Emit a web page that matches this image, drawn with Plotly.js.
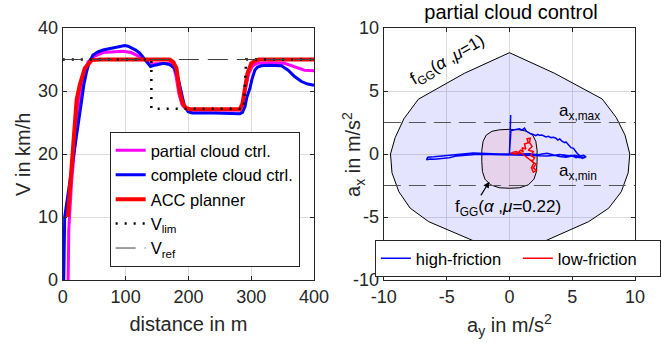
<!DOCTYPE html>
<html>
<head>
<meta charset="utf-8">
<script src="https://cdn.plot.ly/plotly-3.0.1.min.js"></script>
<style>html,body{margin:0;padding:0;background:#fff;}#chart{width:661px;height:355px;}</style>
</head>
<body>
<div id="chart"></div>
<script>
// ---------- Left panel: velocity vs distance ----------
const partialD = [8.5, 9.5, 13.8, 18, 21.8, 26, 32, 40, 50, 64, 83, 96, 109, 122, 131, 138, 145, 160, 170, 176, 180, 185, 190, 196, 202, 240, 282, 287, 291, 296, 302, 310, 330, 353, 369, 385, 400];
const partialV = [0, 8, 15.3, 20.5, 24.6, 28.5, 32, 34.6, 35.5, 36.1, 36.2, 36.3, 36.1, 35.4, 35, 34.3, 34.3, 34.4, 34.4, 34, 32.5, 29.5, 27.8, 27.2, 27.0, 27.0, 27.0, 28, 30.5, 32.8, 34, 34.4, 34.5, 34.4, 33.9, 33.3, 33.2];

const completeD = [1.5, 3, 29.7, 33.5, 37.7, 42, 48, 56, 64, 75, 85.5, 92, 98.7, 104, 109, 116, 122.6, 132, 139.6, 146.5, 153, 160, 170, 178, 183.6, 189, 194, 199.6, 206, 240, 282, 286, 290, 293, 297.8, 301, 305.7, 310, 316, 330, 348, 358.8, 369, 380, 390, 400];
const completeV = [0, 10, 28.3, 31, 33, 34.5, 35.7, 36.2, 36.5, 36.7, 36.9, 37.1, 37.2, 37.1, 36.9, 36.5, 36, 34.9, 33.9, 34.1, 34.3, 34.4, 34.2, 33.6, 32, 29.4, 27.5, 26.7, 26.5, 26.5, 26.4, 26.6, 27.5, 29, 30.4, 31.8, 33.3, 33.8, 34, 34.1, 34, 33.3, 32.3, 31.5, 31.1, 30.9];

const accD = [8, 14, 19, 22, 27, 35, 46, 60, 100, 140, 170, 176, 181, 186, 191, 196, 202, 240, 282, 286, 290, 294, 300, 306, 312, 330, 400];
const accV = [10, 18, 25, 28.6, 31, 33.6, 34.9, 35, 35, 35, 35, 34.6, 33.6, 29.9, 28, 27.3, 27.1, 27.1, 27.1, 28, 30.5, 32.8, 34.4, 34.8, 35, 35, 35];

const limD = [0, 141, 141, 288, 292, 400];
const limV = [35, 35, 27.2, 27.2, 35, 35];

const refD = [0, 400];
const refV = [35, 35];

const leftXTicks = [0, 100, 200, 300, 400];
const leftYTicks = [0, 10, 20, 30, 40];

// ---------- Right panel: g-g diagram ----------
const ggOuterX = [0, -3.6, -7.25, -8.4, -9.1, -9.47, -9.35, -8.8, -7.9, -6.43, -3.0, 0, 3.0, 6.3, 7.9, 8.9, 9.45, 9.58, 9.2, 8.5, 7.38, 3.6, 0];
const ggOuterY = [8.04, 6.4, 4.35, 2.8, 1.3, 0, -1.5, -3.0, -4.3, -5.37, -6.83, -8.1, -6.83, -5.37, -4.3, -3.0, -1.5, 0, 1.5, 2.9, 4.37, 6.4, 8.04];

const ggInnerX = [0, 0.8, 1.4, 1.85, 2.1, 2.2, 2.2, 2.15, 1.95, 1.5, 0.8, 0, -0.8, -1.5, -1.95, -2.15, -2.2, -2.2, -2.1, -1.85, -1.4, -0.8, 0];
const ggInnerY = [1.96, 1.92, 1.8, 1.5, 1.0, 0.3, -0.6, -1.4, -2.0, -2.45, -2.68, -2.72, -2.68, -2.45, -2.0, -1.4, -0.6, 0.3, 1.0, 1.5, 1.8, 1.92, 1.96];

const axMaxX = [-10, 10], axMaxY = [2.5, 2.5];
const axMinX = [-10, 10], axMinY = [-2.5, -2.5];

const highAy = [0, 0.05, 0.1, 0.05, 0.12, 0.0, 0.1, 0.5, 0.8, 1.0, 1.2, 1.35, 1.5, 1.7, 1.9, 2.1, 2.25, 2.4, 2.6, 2.9, 3.1, 3.3, 3.5, 3.7, 3.85, 4.0, 4.2, 4.4, 4.5, 4.7, 4.9, 5.1, 5.2, 5.35, 5.6, 5.9, 6.1, 5.8, 5.5, 5.3, 4.9, 4.6, 4.4, 4.0, 3.6, 3.0, 2.6, 2.3, 1.6, 0.8, 0.3, 0.0, -0.8, -1.6, -2.2, -2.9, -3.5, -4.2, -4.8, -5.4, -6.0, -6.5, -6.6, -6.3, -6.0, -5.4, -4.8, -4.2, -3.5, -2.5, -1.5, -0.5, 0.2, 1.0, 2.0, 3.0, 3.6, 4.0, 4.5, 5.0, 5.5, 6.0, 5.6, 5.2, 4.8, 4.2];
const highAx = [0, 1.8, 3.1, 1.6, 1.9, 0.1, 1.85, 1.95, 2.0, 1.9, 2.05, 1.8, 1.7, 1.6, 1.55, 1.45, 1.55, 1.48, 1.5, 1.35, 1.4, 1.3, 1.32, 1.25, 1.1, 1.2, 1.0, 0.9, 0.95, 0.7, 0.5, 0.45, 0.3, 0.1, -0.15, -0.1, -0.22, -0.35, -0.2, -0.3, -0.1, -0.2, -0.12, -0.05, -0.1, 0.05, 0.0, -0.05, 0.02, 0.0, 0.05, 0.02, 0.0, 0.05, 0.05, 0.08, 0.02, -0.05, -0.15, -0.2, -0.22, -0.25, -0.45, -0.4, -0.42, -0.35, -0.3, -0.15, -0.08, -0.02, -0.03, -0.05, -0.05, -0.1, -0.08, -0.15, -0.1, -0.2, -0.25, -0.15, -0.28, -0.3, -0.2, -0.1, -0.15, -0.05];

const lowAy = [0.1, 0.3, 0.6, 0.5, 0.9, 1.1, 1.0, 1.3, 1.2, 1.5, 1.4, 1.65, 1.6, 1.8, 1.5, 1.9, 1.7, 2.0, 1.8, 2.1, 1.9, 2.15, 1.9, 1.75, 1.95, 1.6, 1.3, 0.9, 0.5, 0.1];
const lowAx = [0.05, 0.15, 0.2, -0.05, 0.3, 0.15, 0.5, 0.4, 0.8, 0.9, 1.2, 1.25, 0.9, 0.6, 0.3, 0.2, -0.1, -0.3, -0.6, -0.8, -1.1, -1.3, -1.45, -1.1, -0.7, -0.4, -0.2, 0.1, 0.0, 0.05];

const rightTicks = [-10, -5, 0, 5, 10];
const rightTickText = ['-10', '-5', '0', '5', '10'];

// ---------- Styles ----------
const FONT = 'Liberation Sans, Arial, Helvetica, sans-serif';
const TXT = '#262626';

const traces = [
  {x: partialD, y: partialV, type: 'scatter', mode: 'lines', name: 'partial cloud ctrl.',
   line: {color: '#FF00FF', width: 3}, xaxis: 'x', yaxis: 'y', legend: 'legend'},
  {x: completeD, y: completeV, type: 'scatter', mode: 'lines', name: 'complete cloud ctrl.',
   line: {color: '#0000FF', width: 3}, xaxis: 'x', yaxis: 'y', legend: 'legend'},
  {x: accD, y: accV, type: 'scatter', mode: 'lines', name: 'ACC planner',
   line: {color: '#FF0000', width: 4}, xaxis: 'x', yaxis: 'y', legend: 'legend'},
  {x: limD, y: limV, type: 'scatter', mode: 'lines', name: 'V<sub>lim</sub>',
   line: {color: '#000000', width: 2.5, dash: '2px,7px'}, xaxis: 'x', yaxis: 'y', legend: 'legend'},
  {x: refD, y: refV, type: 'scatter', mode: 'lines', name: 'V<sub>ref</sub>',
   line: {color: '#404040', width: 1, dash: '20px,9px'}, xaxis: 'x', yaxis: 'y', legend: 'legend'},

  {x: ggOuterX, y: ggOuterY, type: 'scatter', mode: 'lines', fill: 'toself',
   fillcolor: 'rgba(0,0,255,0.105)', line: {color: '#000', width: 1}, showlegend: false,
   hoverinfo: 'skip', xaxis: 'x2', yaxis: 'y2'},
  {x: ggInnerX, y: ggInnerY, type: 'scatter', mode: 'lines', fill: 'toself',
   fillcolor: 'rgba(255,0,0,0.08)', line: {color: '#000', width: 1}, showlegend: false,
   hoverinfo: 'skip', xaxis: 'x2', yaxis: 'y2'},
  {x: axMaxX, y: axMaxY, type: 'scatter', mode: 'lines', showlegend: false,
   line: {color: '#555', width: 1, dash: '17px,8px'}, xaxis: 'x2', yaxis: 'y2'},
  {x: axMinX, y: axMinY, type: 'scatter', mode: 'lines', showlegend: false,
   line: {color: '#555', width: 1, dash: '17px,8px'}, xaxis: 'x2', yaxis: 'y2'},
  {x: highAy, y: highAx, type: 'scatter', mode: 'lines', name: 'high-friction',
   line: {color: '#0000FF', width: 1.5}, xaxis: 'x2', yaxis: 'y2', legend: 'legend2'},
  {x: lowAy, y: lowAx, type: 'scatter', mode: 'lines', name: 'low-friction',
   line: {color: '#FF0000', width: 1.5}, xaxis: 'x2', yaxis: 'y2', legend: 'legend2'}
];

const axisCommon = {
  showline: true, linecolor: TXT, linewidth: 1.3, mirror: 'ticks',
  ticks: 'inside', ticklen: 4, tickwidth: 1, tickcolor: TXT,
  showgrid: true, gridcolor: '#dcdcdc', gridwidth: 1, zeroline: false,
  tickfont: {family: FONT, size: 18, color: TXT}
};
const titleFont = {family: FONT, size: 20, color: TXT};

const layout = {
  width: 661, height: 355,
  margin: {l: 0, r: 0, t: 28, b: 75},
  paper_bgcolor: '#fff', plot_bgcolor: '#fff',
  font: {family: FONT, color: TXT},
  title: {text: 'partial cloud control', font: {family: FONT, size: 20, color: '#000'},
          x: 511/661, xanchor: 'center', y: 1 - 12/355, yanchor: 'middle'},
  xaxis: Object.assign({}, axisCommon, {
    domain: [63/661, 315/661], range: [0, 400], tickvals: leftXTicks,
    title: {text: 'distance in m', font: titleFont, standoff: 11},
    anchor: 'y'}),
  yaxis: Object.assign({}, axisCommon, {
    domain: [0, 1], range: [0, 40], tickvals: leftYTicks, anchor: 'x'}),
  xaxis2: Object.assign({}, axisCommon, {
    domain: [385/661, 637/661], range: [-10, 10], tickvals: rightTicks, ticktext: rightTickText,
    title: {text: 'a<sub>y</sub> in m/s<sup>2</sup>', font: titleFont, standoff: 12},
    anchor: 'y2'}),
  yaxis2: Object.assign({}, axisCommon, {
    domain: [0, 1], range: [-10, 10], tickvals: rightTicks, ticktext: rightTickText,
    anchor: 'x2'}),
  legend: {
    x: 110/661, xref: 'paper', xanchor: 'left', y: (280-132)/252, yanchor: 'top',
    bgcolor: '#fff', bordercolor: TXT, borderwidth: 1,
    font: {family: FONT, size: 16.5, color: '#000'}, tracegroupgap: 0
  },
  legend2: {
    x: 376/661, xanchor: 'left', y: (280-240)/252, yanchor: 'top', orientation: 'h',
    entrywidth: 97, entrywidthmode: 'pixels',
    bgcolor: '#fff', bordercolor: TXT, borderwidth: 1,
    font: {family: FONT, size: 16.5, color: '#000'}
  },
  annotations: [
    {xref: 'paper', yref: 'paper', x: 23/661, y: 0.5, text: 'V in km/h', textangle: -90,
     showarrow: false, xanchor: 'center', yanchor: 'middle', font: titleFont},
    {xref: 'paper', yref: 'paper', x: 354/661, y: 0.5, text: 'a<sub>x</sub> in m/s<sup>2</sup>', textangle: -90,
     showarrow: false, xanchor: 'center', yanchor: 'middle', font: titleFont},
    {xref: 'x2', yref: 'y2', x: -4.9, y: 7.35, text: 'f<sub>GG</sub>(<i>α</i> ,<i>μ</i>=1)',
     showarrow: false, textangle: -30, font: {family: FONT, size: 17, color: '#000'}},
    {xref: 'x2', yref: 'y2', x: 3.8, y: 3.35, xanchor: 'left', text: 'a<sub>x,max</sub>',
     showarrow: false, font: {family: FONT, size: 17, color: '#000'}},
    {xref: 'x2', yref: 'y2', x: 3.8, y: -1.45, xanchor: 'left', text: 'a<sub>x,min</sub>',
     showarrow: false, font: {family: FONT, size: 17, color: '#000'}},
    {xref: 'x2', yref: 'y2', x: -0.1, y: -4.3, text: 'f<sub>GG</sub>(<i>α</i> ,<i>μ</i>=0.22)',
     showarrow: false, font: {family: FONT, size: 17, color: '#000'}},
    {xref: 'x2', yref: 'y2', x: -1.6, y: -2.2, axref: 'x2', ayref: 'y2', ax: -2.35, ay: -3.4,
     text: '', showarrow: true, arrowhead: 2, arrowsize: 1, arrowwidth: 1.2, arrowcolor: '#000'}
  ]
};

Plotly.newPlot('chart', traces, layout, {displayModeBar: false, staticPlot: true});
</script>
</body>
</html>
